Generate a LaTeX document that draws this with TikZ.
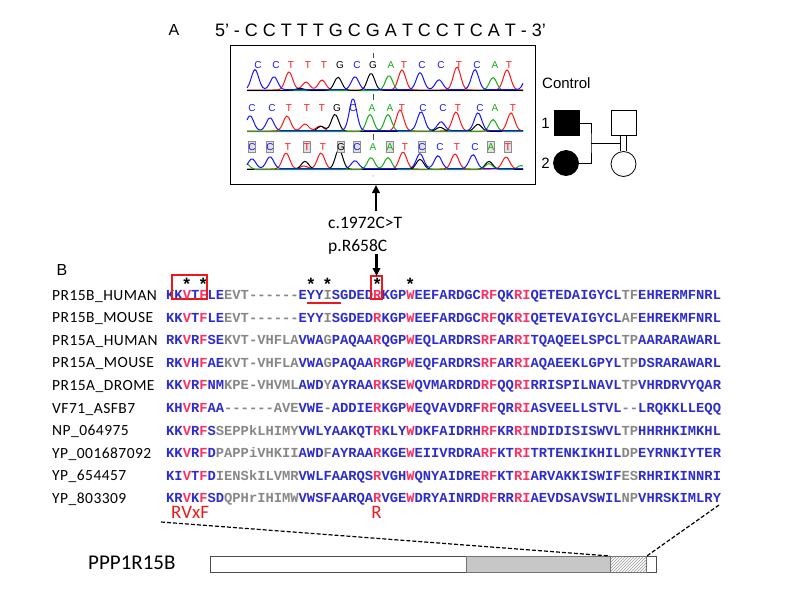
\documentclass[tikz,border=0pt]{standalone}
\usepackage{fontspec}
\setmainfont{Carlito}
\setmonofont{Liberation Mono}
\newfontfamily\arial{Liberation Sans}
\usetikzlibrary{patterns,arrows.meta}
\definecolor{ab}{RGB}{45,45,205}
\definecolor{ar}{RGB}{250,50,100}
\definecolor{ag}{RGB}{135,135,135}
\definecolor{tb}{RGB}{20,20,255}
\definecolor{tr}{RGB}{255,20,20}
\definecolor{tg}{RGB}{20,170,20}
\definecolor{redmk}{RGB}{235,25,25}
\newcommand\cB[1]{{\color{ab}#1}}
\newcommand\cR[1]{{\color{ar}#1}}
\newcommand\cG[1]{{\color{ag}#1}}
\newcommand\gpk[2]{-#2*exp(max(-20,0-((\x-#1)/5.2)*((\x-#1)/5.2)))}
\newcommand\trace[3]{\draw[#1,line width=1pt] plot[smooth,domain=247:523,samples=140] (\x,{#2#3});}
\begin{document}
\begin{tikzpicture}[x=1pt,y=-1pt,
  lbl/.style={font=\fontsize{15.5}{16}\selectfont\addfontfeature{LetterSpace=3},anchor=base west,inner sep=0},
  seqrow/.style={font=\ttfamily\bfseries\fontsize{13.8}{14}\selectfont,anchor=base west,inner sep=0},
  star/.style={font=\ttfamily\bfseries\fontsize{17}{17}\selectfont,anchor=base,inner sep=0},
  base/.style={font=\arial\fontsize{10}{10}\selectfont,inner sep=0,anchor=center},
  gbox/.style={draw=black!45,fill=black!12,line width=0.6pt,minimum width=7pt,minimum height=11pt,inner sep=0},
  bigarrow/.style={line width=2.2pt,-{Triangle[length=8pt,width=7.5pt]}},
  redline/.style={draw=redmk,line width=1.4pt},
  ped/.style={draw=black,line width=0.8pt}]
\useasboundingbox (0,0) rectangle (800,600);

% ---------- Panel A ----------
\node[font=\arial\fontsize{16}{16}\selectfont,inner sep=0] (labA) at (174,30) {A};
\node[font=\arial\fontsize{18}{18}\selectfont,inner sep=0] (topseq) at (380.5,30) {5’ - C C T T T G C G A T C C T C A T - 3’};
\node[draw=black,line width=1pt,minimum width=305pt,minimum height=139pt,inner sep=0,anchor=north west] (chrom) at (230,45) {};

% traces row 1
\trace{tr}{90}{\gpk{289}{18}\gpk{306}{8}\gpk{322}{10}\gpk{402}{20}\gpk{457}{23}\gpk{507}{20}}
\trace{tg}{90.6}{\gpk{389}{15}\gpk{493}{13}}
\trace{black}{90.3}{\gpk{338}{13}\gpk{371}{17}\gpk{300}{2}}
\trace{tb}{89.7}{\gpk{255}{20}\gpk{274}{13}\gpk{355}{13}\gpk{420}{17}\gpk{439}{10}\gpk{475}{20}\gpk{528}{16}}
% traces row 2
\trace{tr}{131}{\gpk{287}{15}\gpk{305}{7}\gpk{320}{5}\gpk{400}{21}\gpk{456}{19}\gpk{511}{18}}
\trace{black}{131.3}{\gpk{321}{5}\gpk{335}{17}\gpk{440}{4}\gpk{478}{7}}
\trace{tg}{131.6}{\gpk{370}{17}\gpk{388}{17}\gpk{493}{12}}
\trace{tb}{130.7}{\gpk{250}{15}\gpk{270}{13}\gpk{353}{32}\gpk{421}{19}\gpk{441}{9}\gpk{478}{18}}
% traces row 3
\trace{tr}{169}{\gpk{286}{16}\gpk{304}{3}\gpk{321}{16}\gpk{403}{17}\gpk{455}{15}\gpk{506}{12}}
\trace{black}{169.3}{\gpk{305}{8}\gpk{339}{20}\gpk{420}{10}\gpk{489}{8}}
\trace{tg}{169.6}{\gpk{246}{6}\gpk{371}{12}\gpk{388}{12}\gpk{489}{6}\gpk{521}{4}}
\trace{tb}{168.7}{\gpk{252}{10}\gpk{270}{12}\gpk{355}{8}\gpk{420}{15}\gpk{438}{13}\gpk{473}{14}}

% base calls
\foreach \px/\b/\c [count=\i] in {258/C/tb,276/C/tb,291/T/tr,308/T/tr,324/T/tr,340/G/black,357/C/tb,373/G/black,391/A/tg,404/T/tr,422/C/tb,441/C/tb,459/T/tr,477/C/tb,495/A/tg,509/T/tr}
  \node[base,text=\c] (ra\i) at (\px,65) {\b};
\foreach \px/\b/\c [count=\i] in {252/C/tb,272/C/tb,289/T/tr,307/T/tr,322/T/tr,337/G/black,353/C/tb,372/A/tg,390/A/tg,402/T/tr,423/C/tb,443/C/tb,458/T/tr,480/C/tb,495/A/tg,513/T/tr}
  \node[base,text=\c] (rb\i) at (\px,108) {\b};
\foreach \px in {252,270,307,341,357,390,422,491,508}
  \node[gbox] at (\px,147) {};
\foreach \px/\b/\c [count=\i] in {252/C/tb,270/C/tb,288/T/tr,307/T/tr,323/T/tr,341/G/black,357/C/tb,373/A/tg,390/A/tg,405/T/tr,422/C/tb,440/C/tb,457/T/tr,475/C/tb,491/A/tg,508/T/tr}
  \node[base,text=\c] (rc\i) at (\px,147) {\b};
\draw[black!70,line width=0.7pt] (373,53) -- (373,58) (373,94) -- (373,100) (373,134) -- (373,140);
\fill[black!50] (373,176) circle (0.6);

% pedigree
\node[font=\arial\fontsize{15}{15}\selectfont,anchor=west,inner sep=0] (ctrl) at (542,83) {Control};
\node[font=\arial\fontsize{15}{15}\selectfont,inner sep=0] (n1) at (545.5,123) {1};
\node[font=\arial\fontsize{15}{15}\selectfont,inner sep=0] (n2) at (545.5,163) {2};
\node[ped,fill=black,minimum size=25pt,inner sep=0] (fa) at (566.5,123) {};
\node[ped,fill=black,circle,minimum size=25pt,inner sep=0] (mo) at (566,163) {};
\node[ped,fill=white,minimum size=25pt,inner sep=0] (sq2) at (623.5,123) {};
\node[ped,fill=white,circle,minimum size=25pt,inner sep=0] (ci2) at (623.5,164) {};
\coordinate (mate) at (591,143);
\draw[ped] (fa.east) -| (mate) |- (mo.east);
\draw[ped] (mate) -- (620.5,143);
\draw[ped] ([xshift=-3pt]sq2.south) -- ([xshift=-3pt]ci2.north) ([xshift=3pt]sq2.south) -- ([xshift=3pt]ci2.north);

% mutation labels
\node[font=\fontsize{17.5}{18}\selectfont,anchor=west,inner sep=0] (cdna) at (328,223) {c.1972C>T};
\node[font=\fontsize{17.5}{18}\selectfont,anchor=west,inner sep=0] (prot) at (328,247) {p.R658C};
\coordinate (upfrom) at (376,211);
\draw[bigarrow] (upfrom) -- (chrom.south -| upfrom);

% ---------- Panel B ----------
\node[font=\arial\fontsize{16}{16}\selectfont,inner sep=0] (labB) at (62,270) {B};

\node[lbl] (l1) at (52,300) {PR15B\_HUMAN};
\node[lbl] (l2) at (52,322.6) {PR15B\_MOUSE};
\node[lbl] (l3) at (52,345.2) {PR15A\_HUMAN};
\node[lbl] (l4) at (52,367.8) {PR15A\_MOUSE};
\node[lbl] (l5) at (52,390.4) {PR15A\_DROME};
\node[lbl] (l6) at (52,413) {VF71\_ASFB7};
\node[lbl] (l7) at (52,435.6) {NP\_064975};
\node[lbl] (l8) at (52,458.2) {YP\_001687092};
\node[lbl] (l9) at (52,480.8) {YP\_654457};
\node[lbl] (l10) at (52,503.4) {YP\_803309};

\node[seqrow] (s1) at (166,299.5) {\cB{KK}\cR{V}\cB{T}\cR{F}\cB{LE}\cG{EVT------}\cB{EYY}\cG{I}\cB{SGDED}\cR{R}\cB{KGP}\cR{W}\cB{EEFARDGC}\cR{RF}\cB{QK}\cR{RI}\cB{QETEDAIGYCL}\cG{TF}\cB{EHRERMFNRL}};
\node[seqrow] (s2) at (166,322.1) {\cB{KK}\cR{V}\cB{T}\cR{F}\cB{LE}\cG{EVT------}\cB{EYY}\cG{I}\cB{SGDED}\cR{R}\cB{KGP}\cR{W}\cB{EEFARDGC}\cR{RF}\cB{QK}\cR{RI}\cB{QETEVAIGYCL}\cG{AF}\cB{EHREKMFNRL}};
\node[seqrow] (s3) at (166,344.7) {\cB{RK}\cR{V}\cB{R}\cR{F}\cB{SE}\cG{KVT-VHFLA}\cB{VWA}\cG{G}\cB{PAQAA}\cR{R}\cB{QGP}\cR{W}\cB{EQLARDRS}\cR{RF}\cB{AR}\cR{RI}\cB{TQAQEELSPCL}\cG{TP}\cB{AARARAWARL}};
\node[seqrow] (s4) at (166,367.3) {\cB{RK}\cR{V}\cB{H}\cR{F}\cB{AE}\cG{KVT-VHFLA}\cB{VWA}\cG{G}\cB{PAQAA}\cR{R}\cB{RGP}\cR{W}\cB{EQFARDRS}\cR{RF}\cB{AR}\cR{RI}\cB{AQAEEKLGPYL}\cG{TP}\cB{DSRARAWARL}};
\node[seqrow] (s5) at (166,389.9) {\cB{KK}\cR{V}\cB{R}\cR{F}\cB{NM}\cG{KPE-VHVML}\cB{AWD}\cG{Y}\cB{AYRAA}\cR{R}\cB{KSE}\cR{W}\cB{QVMARDRD}\cR{RF}\cB{QQ}\cR{RI}\cB{RRISPILNAVL}\cG{TP}\cB{VHRDRVYQAR}};
\node[seqrow] (s6) at (166,412.5) {\cB{KH}\cR{V}\cB{R}\cR{F}\cB{AA}\cG{------AVE}\cB{VWE}\cG{-}\cB{ADDIE}\cR{R}\cB{KGP}\cR{W}\cB{EQVAVDRF}\cR{RF}\cB{QR}\cR{RI}\cB{ASVEELLSTVL}\cG{--}\cB{LRQKKLLEQQ}};
\node[seqrow] (s7) at (166,435.1) {\cB{KK}\cR{V}\cB{R}\cR{F}\cB{S}\cG{SEPPkLHIMY}\cB{VWLYAAKQT}\cR{R}\cB{KLY}\cR{W}\cB{DKFAIDRH}\cR{RF}\cB{KR}\cR{RI}\cB{NDIDISISWVL}\cG{TP}\cB{HHRHKIMKHL}};
\node[seqrow] (s8) at (166,457.7) {\cB{KK}\cR{V}\cB{R}\cR{F}\cB{D}\cG{PAPPiVHKII}\cB{AWD}\cG{F}\cB{AYRAA}\cR{R}\cB{KGE}\cR{W}\cB{EIIVRDRA}\cR{RF}\cB{KT}\cR{RI}\cB{TRTENKIKHIL}\cG{DP}\cB{EYRNKIYTER}};
\node[seqrow] (s9) at (166,480.3) {\cB{KI}\cR{V}\cB{T}\cR{F}\cB{D}\cG{IENSkILVMR}\cB{VWLFAARQS}\cR{R}\cB{VGH}\cR{W}\cB{QNYAIDRE}\cR{RF}\cB{KT}\cR{RI}\cB{ARVAKKISWIF}\cG{ES}\cB{RHRIKINNRI}};
\node[seqrow] (s10) at (166,502.9) {\cB{KR}\cR{V}\cB{K}\cR{F}\cB{SD}\cG{QPHrIHIMW}\cB{VWSFAARQA}\cR{R}\cB{VGE}\cR{W}\cB{DRYAINRD}\cR{RF}\cB{RR}\cR{RI}\cB{AEVDSAVSWIL}\cG{NP}\cB{VHRSKIMLRY}};

% asterisks (char centre = 166 + (i-0.5)*8.28)
\foreach \i in {3,5,18,20,26,30}
  \node[star] (st\i) at ({166+(\i-0.5)*8.28},290) {*};

% red marks
\draw[redline] (172,275) rectangle (207,299);
\draw[redline] (371,276) rectangle (382,299);
\draw[redline] (307,303) -- (341,303);
\coordinate (downfrom) at (376.5,254);
\coordinate (rtop) at (376.5,276);
\draw[bigarrow] (downfrom) -- (rtop);

\node[font=\fontsize{19}{19}\selectfont,text=redmk,anchor=west,inner sep=0] (rvxf) at (171,512) {RVxF};
\node[font=\fontsize{19}{19}\selectfont,text=redmk,inner sep=0] (rres) at (376.5,512) {R};

% ---------- domain bar ----------
\node[font=\fontsize{21}{21}\selectfont,anchor=west,inner sep=0] (gene) at (88,563) {PPP1R15B};
\node[draw=black!70,fill=white,line width=0.8pt,anchor=north west,minimum width=446pt,minimum height=16pt,inner sep=0] (bar) at (210,556) {};
\node[draw=black!55,fill=black!22,line width=0.8pt,anchor=north west,minimum width=144pt,minimum height=16pt,inner sep=0] (pest) at (466,556) {};
\node[draw=black!55,pattern=north east lines,pattern color=black!40,line width=0.8pt,anchor=north west,minimum width=36pt,minimum height=16pt,inner sep=0] (dom) at (610,556) {};
\coordinate (zl) at (161,522);
\coordinate (zr) at (719,505);
\draw[dashed,line width=1.2pt,dash pattern=on 4pt off 2pt] (zl) -- (dom.north west);
\draw[dashed,line width=1.2pt,dash pattern=on 4pt off 2pt] (zr) -- (dom.north east);
\end{tikzpicture}
\end{document}
